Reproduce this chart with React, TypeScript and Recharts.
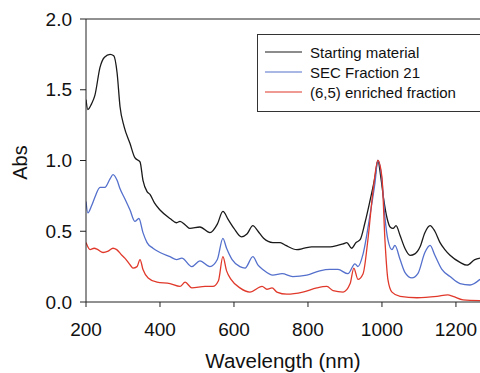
import React from "react";
import { LineChart, Line, XAxis, YAxis, Legend, ReferenceLine } from "recharts";

const xTicks = [200, 400, 600, 800, 1000, 1200];
const yTicks = [0, 0.5, 1.0, 1.5, 2.0];

const startingNm = [200, 205, 215, 224, 238, 250, 265, 275, 284, 292, 303, 319, 332, 346, 354, 365, 373, 385, 400, 427, 445, 454, 470, 481, 508, 535, 555, 570, 585, 600, 620, 635, 651, 665, 680, 705, 725, 740, 770, 790, 810, 860, 880, 895, 905, 918, 930, 941, 954, 968, 981, 989, 997, 1005, 1014, 1022, 1030, 1038, 1049, 1062, 1076, 1089, 1103, 1116, 1130, 1143, 1157, 1170, 1184, 1211, 1230, 1251, 1265];
const startingAbs = [1.43, 1.36, 1.40, 1.46, 1.66, 1.73, 1.75, 1.74, 1.62, 1.38, 1.24, 1.12, 1.02, 0.99, 0.86, 0.78, 0.76, 0.70, 0.65, 0.59, 0.56, 0.57, 0.54, 0.52, 0.53, 0.49, 0.55, 0.64, 0.58, 0.52, 0.46, 0.48, 0.54, 0.50, 0.45, 0.42, 0.42, 0.40, 0.37, 0.38, 0.39, 0.39, 0.40, 0.41, 0.42, 0.38, 0.42, 0.44, 0.56, 0.72, 0.88, 1.0, 0.88, 0.72, 0.59, 0.53, 0.52, 0.54, 0.47, 0.38, 0.33, 0.34, 0.39, 0.49, 0.54, 0.50, 0.42, 0.37, 0.33, 0.28, 0.26, 0.30, 0.31];

const sec21Nm = [200, 205, 215, 224, 238, 251, 265, 273, 284, 292, 305, 319, 332, 343, 354, 365, 381, 400, 427, 445, 459, 486, 508, 535, 555, 570, 580, 595, 616, 630, 651, 665, 678, 705, 730, 759, 797, 832, 859, 881, 908, 927, 935, 949, 968, 981, 989, 1000, 1008, 1016, 1027, 1035, 1049, 1062, 1081, 1097, 1116, 1130, 1143, 1162, 1184, 1211, 1238, 1265];
const sec21Abs = [0.71, 0.63, 0.68, 0.74, 0.81, 0.81, 0.87, 0.90, 0.86, 0.80, 0.73, 0.65, 0.57, 0.59, 0.49, 0.42, 0.38, 0.35, 0.32, 0.30, 0.31, 0.25, 0.29, 0.25, 0.30, 0.45, 0.38, 0.30, 0.25, 0.24, 0.32, 0.26, 0.23, 0.19, 0.20, 0.18, 0.19, 0.22, 0.23, 0.23, 0.20, 0.27, 0.25, 0.34, 0.62, 0.84, 1.0, 0.86, 0.60, 0.44, 0.37, 0.40, 0.30, 0.21, 0.17, 0.20, 0.35, 0.40, 0.33, 0.23, 0.18, 0.13, 0.12, 0.16];

const enrichedNm = [200, 211, 222, 232, 246, 260, 273, 283, 297, 305, 320, 327, 338, 346, 354, 368, 392, 427, 454, 468, 486, 522, 543, 558, 570, 580, 592, 616, 643, 676, 689, 703, 716, 743, 786, 824, 851, 868, 895, 914, 924, 935, 949, 962, 976, 989, 1000, 1008, 1016, 1027, 1049, 1095, 1149, 1178, 1192, 1219, 1265];
const enrichedAbs = [0.42, 0.37, 0.38, 0.37, 0.35, 0.36, 0.38, 0.37, 0.33, 0.31, 0.26, 0.24, 0.25, 0.30, 0.23, 0.17, 0.14, 0.13, 0.11, 0.14, 0.10, 0.11, 0.11, 0.15, 0.32, 0.22, 0.16, 0.10, 0.07, 0.11, 0.09, 0.10, 0.07, 0.055, 0.07, 0.10, 0.11, 0.08, 0.07, 0.13, 0.24, 0.16, 0.20, 0.44, 0.79, 1.0, 0.88, 0.44, 0.16, 0.07, 0.04, 0.03, 0.04, 0.05, 0.04, 0.015, 0.01];

const toRows = (nm: number[], abs: number[]) => nm.map((w, i) => ({ nm: w, abs: abs[i] }));

const series = [
  { name: "Starting material", color: "#1a1a1a", data: toRows(startingNm, startingAbs) },
  { name: "SEC Fraction 21", color: "#5470cc", data: toRows(sec21Nm, sec21Abs) },
  { name: "(6,5) enriched fraction", color: "#e0392b", data: toRows(enrichedNm, enrichedAbs) },
];

const font = "'Liberation Sans', Arial, sans-serif";

const LegendBox = () => (
  <div
    style={{
      border: "1px solid #333",
      borderRight: "none",
      padding: "7px 0 9px 7px",
      background: "#fff",
      fontFamily: font,
      fontSize: 15,
      color: "#111",
      boxSizing: "border-box",
      width: 224,
      textAlign: "left",
    }}
  >
    {series.map((s) => (
      <div key={s.name} style={{ display: "flex", alignItems: "center", height: 20 }}>
        <svg width={37} height={10} style={{ marginRight: 8 }}>
          <line x1={0} y1={5} x2={37} y2={5} stroke={s.color} strokeWidth={1.2} />
        </svg>
        <span>{s.name}</span>
      </div>
    ))}
  </div>
);

const AbsLabel = (props: any) => {
  const vb = props.viewBox || { x: 0, y: 0, width: 0, height: 0 };
  const cx = vb.x + 12;
  const cy = vb.y + vb.height / 2 + 2;
  return (
    <text
      x={cx}
      y={cy}
      transform={`rotate(-90, ${cx}, ${cy})`}
      textAnchor="middle"
      dominantBaseline="central"
      fill="#111"
      fontSize={20}
      fontFamily={font}
    >
      Abs
    </text>
  );
};

export default function App() {
  return (
    <div style={{ position: "absolute", left: 8, top: 8, width: 472, height: 365 }}>
      <LineChart width={472} height={365} margin={{ top: 11, right: 0, bottom: 0, left: 0 }}>
        <XAxis
          dataKey="nm"
          type="number"
          domain={[200, 1265]}
          ticks={xTicks}
          interval={0}
          allowDataOverflow
          tickSize={5}
          tickMargin={16}
          height={71}
          stroke="#222"
          tick={{ fill: "#111", fontSize: 19, fontFamily: font }}
          label={{ value: "Wavelength (nm)", position: "insideBottom", offset: 5, fill: "#111", fontSize: 20.5, fontFamily: font }}
        />
        <YAxis
          type="number"
          domain={[0, 2]}
          ticks={yTicks}
          interval={0}
          tickFormatter={(v: number) => v.toFixed(1)}
          tickSize={6}
          tickMargin={8}
          width={78}
          stroke="#222"
          tick={{ fill: "#111", fontSize: 19, fontFamily: font }}
          label={<AbsLabel />}
        />
        <ReferenceLine y={2} stroke="#222" strokeWidth={1} />
        <Legend
          verticalAlign="middle"
          align="center"
          layout="horizontal"
          content={<LegendBox />}
          wrapperStyle={{ position: "absolute", left: 249, top: 26, width: 224 }}
        />
        {series.map((s) => (
          <Line
            key={s.name}
            data={s.data}
            dataKey="abs"
            name={s.name}
            type="monotone"
            stroke={s.color}
            strokeWidth={1.3}
            dot={false}
            isAnimationActive={false}
            legendType="line"
          />
        ))}
      </LineChart>
    </div>
  );
}
